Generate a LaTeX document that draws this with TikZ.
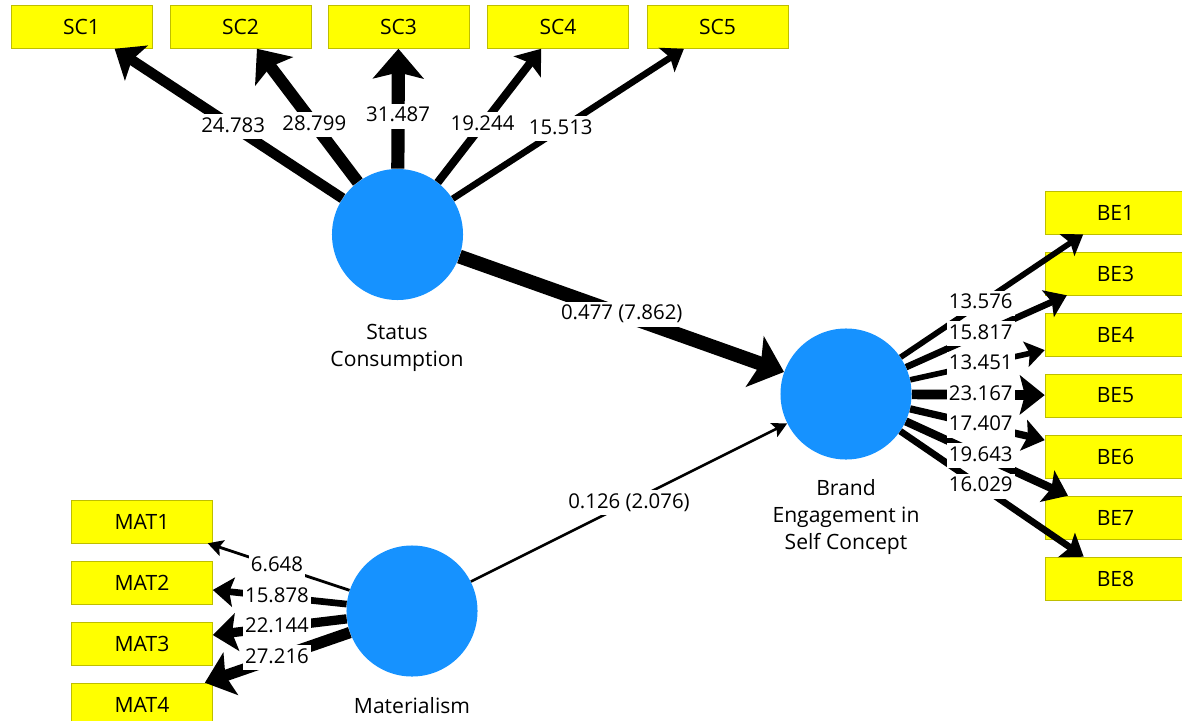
\documentclass[tikz,border=0pt]{standalone}
\usepackage{fontspec}
\setmainfont{Open Sans}
\usepackage{tikz}
\usepackage{xcolor}
\usetikzlibrary{arrows.meta,calc}
\definecolor{latblue}{RGB}{22,146,255}
\definecolor{indyellow}{RGB}{255,255,0}
\definecolor{indedge}{RGB}{190,190,0}

\begin{document}
\begin{tikzpicture}[x=0.025cm,y=-0.025cm,every node/.style={font=\fontsize{14.5}{19}\selectfont},
  ind/.style={draw=indedge,fill=indyellow,minimum width=3.525cm,minimum height=1.075cm,inner sep=0pt,font=\fontsize{15}{19}\selectfont},
  lat/.style={circle,fill=latblue,minimum size=3.275cm,inner sep=0pt},
  ld/.style={line width=#1*0.025cm,-{Stealth[length=8pt 1.4,width=5pt 3.3,inset=1.5pt 0.3]}},
  val/.style={fill=white,inner xsep=1.5pt,inner ysep=2pt,text height=11pt,text depth=3pt}]
\useasboundingbox (0,0) rectangle (1182,721);
% indicators
\node[ind] (sc1) at (81.5,27) {SC1};
\node[ind] (sc2) at (240.5,27) {SC2};
\node[ind] (sc3) at (398.5,27) {SC3};
\node[ind] (sc4) at (558,27) {SC4};
\node[ind] (sc5) at (717.5,27) {SC5};
\node[ind] (mat1) at (142,521.5) {MAT1};
\node[ind] (mat2) at (142,582.5) {MAT2};
\node[ind] (mat3) at (142,643.5) {MAT3};
\node[ind] (mat4) at (142,704.5) {MAT4};
\node[ind] (be1) at (1115.5,212.5) {BE1};
\node[ind] (be3) at (1115.5,273.5) {BE3};
\node[ind] (be4) at (1115.5,334.5) {BE4};
\node[ind] (be5) at (1115.5,395.5) {BE5};
\node[ind] (be6) at (1115.5,456.5) {BE6};
\node[ind] (be7) at (1115.5,517.5) {BE7};
\node[ind] (be8) at (1115.5,578.5) {BE8};
% constructs
\node[lat] (sc) at (397.5,234.5) {};
\node[lat] (mat) at (412,611) {};
\node[lat] (be) at (846,394) {};
\node[align=center,font=\fontsize{15}{19}\selectfont] (scname) at (397,348) {Status\\Consumption};
\node[align=center,font=\fontsize{15}{19}\selectfont] (matname) at (412,706) {Materialism};
\node[align=center,font=\fontsize{15}{19}\selectfont] (bename) at (846,517) {Brand\\Engagement in\\Self Concept};
% loadings
\draw[ld=10.4] (sc) -- (sc1);
\draw[ld=12.1] (sc) -- (sc2);
\draw[ld=13.2] (sc) -- (sc3);
\draw[ld=8.1] (sc) -- (sc4);
\draw[ld=6.5] (sc) -- (sc5);
\draw[ld=2.8] (mat) -- (mat1);
\draw[ld=6.7] (mat) -- (mat2);
\draw[ld=9.3] (mat) -- (mat3);
\draw[ld=11.4] (mat) -- (mat4);
\draw[ld=5.7] (be) -- (be1);
\draw[ld=6.6] (be) -- (be3);
\draw[ld=5.6] (be) -- (be4);
\draw[ld=9.7] (be) -- (be5);
\draw[ld=7.3] (be) -- (be6);
\draw[ld=8.2] (be) -- (be7);
\draw[ld=6.7] (be) -- (be8);
% paths
\draw[ld=14] (sc) -- (be);
\draw[ld=2.5] (mat) -- (be);
% values
\node[val] (vsc1) at ($(sc)!.52!(sc1)$) {24.783};
\node[val] (vsc2) at ($(sc)!.53!(sc2)$) {28.799};
\node[val] (vsc3) at ($(sc)!.57!(sc3)$) {31.487};
\node[val] (vsc4) at ($(sc)!.53!(sc4)$) {19.244};
\node[val] (vsc5) at ($(sc)!.51!(sc5)$) {15.513};
\node[val] (vmat1) at ($(mat)!.5!(mat1)$) {6.648};
\node[val] (vmat2) at ($(mat)!.5!(mat2)$) {15.878};
\node[val] (vmat3) at ($(mat)!.5!(mat3)$) {22.144};
\node[val] (vmat4) at ($(mat)!.5!(mat4)$) {27.216};
\node[val] (vbe1) at ($(be)!.5!(be1)$) {13.576};
\node[val] (vbe3) at ($(be)!.5!(be3)$) {15.817};
\node[val] (vbe4) at ($(be)!.5!(be4)$) {13.451};
\node[val] (vbe5) at ($(be)!.5!(be5)$) {23.167};
\node[val] (vbe6) at ($(be)!.5!(be6)$) {17.407};
\node[val] (vbe7) at ($(be)!.5!(be7)$) {19.643};
\node[val] (vbe8) at ($(be)!.5!(be8)$) {16.029};
\node[val] (vpath1) at ($(sc)!.5!(be)$) {0.477 (7.862)};
\node[val] (vpath2) at ($(mat)!.5!(be)$) {0.126 (2.076)};
\end{tikzpicture}
\end{document}
